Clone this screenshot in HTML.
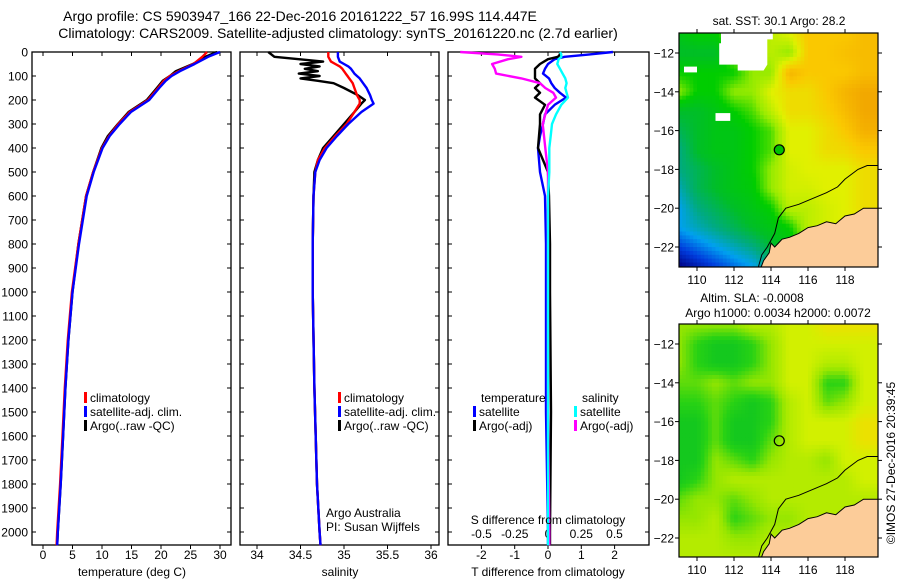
<!DOCTYPE html>
<html><head><meta charset="utf-8"><style>
html,body{margin:0;padding:0;background:#fff;width:900px;height:580px;overflow:hidden}
svg text{font-family:"Liberation Sans",sans-serif;fill:#000}
</style></head><body>
<svg id="fig" xmlns="http://www.w3.org/2000/svg" width="900" height="580" viewBox="0 0 900 580">
<text x="300" y="21" font-size="14" text-anchor="middle">Argo profile: CS 5903947_166 22-Dec-2016 20161222_57 16.99S 114.447E</text>
<text x="338" y="38" font-size="14" text-anchor="middle">Climatology: CARS2009. Satellite-adjusted climatology: synTS_20161220.nc (2.7d earlier)</text>
<g id="g"></g>
</svg>
<script>
// ---------- data ----------
const depthT = [0,10,20,50,80,100,120,150,200,250,300,350,400,500,600,800,1000,1200,1400,1600,1800,2000,2055];
const tempClim = [27.8,27.4,27,25.5,23,21.5,20.5,19.5,17.8,14.7,12.8,11.2,10,8.5,7.3,6,4.9,4.2,3.7,3.3,2.9,2.4,2.3];
const tempSat = [30,29,28,25.7,23.2,21.8,20.8,19.7,18,14.9,13,11.3,10.1,8.6,7.4,6.1,5,4.3,3.8,3.4,3,2.5,2.4];
const tempArgo = [29.5,28.5,27.5,25.4,22.5,21.5,20.3,19.3,17.6,14.5,12.7,11,9.9,8.5,7.3,6,5,4.3,3.8,3.4,3,2.5,2.4];
const depthS = [0,20,40,50,60,70,80,90,100,110,120,130,150,180,200,215,250,300,350,400,450,500,600,800,1000,1400,1800,2000,2055];
const salClim = [34.82,34.82,34.85,34.9,34.95,34.98,35,35.02,35.04,35.06,35.08,35.1,35.12,35.15,35.18,35.18,35.12,35.03,34.9,34.78,34.7,34.67,34.65,34.64,34.64,34.66,34.69,34.72,34.73];
const salSat = [34.93,34.93,34.95,35,35.05,35.08,35.1,35.12,35.15,35.18,35.2,35.22,35.26,35.3,35.32,35.34,35.2,35.05,34.92,34.8,34.72,34.67,34.65,34.64,34.64,34.66,34.69,34.72,34.73];
const salArgo = [34.13,34.2,34.76,34.5,34.72,34.55,34.7,34.48,34.72,34.5,34.7,34.88,35,35.16,35.24,35.2,35.12,35.0,34.88,34.76,34.7,34.66,34.65,34.64,34.64,34.66,34.69,34.72,34.73];
const depthD = [0,10,20,30,50,70,90,110,130,150,170,190,220,260,300,350,400,500,600,800,1000,1500,2000,2055];
const dTsat = [1.95,1.25,0.5,0.2,0,-0.09,-0.15,0.03,0.1,0.2,0.36,0.54,0.2,-0.09,-0.15,-0.24,-0.3,-0.24,-0.09,-0.06,-0.06,-0.06,0,0];
const dTargo = [0.36,0.36,0.3,0,-0.24,-0.39,-0.39,-0.39,-0.24,-0.39,-0.24,-0.39,-0.09,-0.24,-0.24,-0.27,-0.3,0,0.03,0.06,0.06,0.09,0.06,0.06];
const dSsat = [0.09,0.1,0.1,0.08,0.07,0.09,0.11,0.13,0.14,0.13,0.14,0.15,0.1,0.06,0.03,0.02,0.01,0.01,0.0,0.0,0.0,0.0,0.0,0.0];
const dSargo = [-0.66,-0.38,-0.2,-0.3,-0.42,-0.4,-0.39,-0.2,-0.06,-0.02,0.04,0.06,0.0,-0.02,-0.04,-0.03,-0.02,0.0,0.0,0.0,0.0,0.0,0.01,0.01];
const depthTicks = [0,100,200,300,400,500,600,700,800,900,1000,1100,1200,1300,1400,1500,1600,1700,1800,1900,2000];
const tempTicks = [0,5,10,15,20,25,30];
const salTicks = [34,34.5,35,35.5,36];
const dTTicks = [-2,-1,0,1,2];
const dSTicks = [-0.5,-0.25,0,0.25,0.5];
const dSTickLabels = ["-0.5","-0.25","0","0.25","0.5"];
// map grids, rows lat -11..-23, cols lon 109..119
const sstGrid = [
[4.5,5,5,6,6,6.5,7,8,8,8,8.3],
[4,4,4,6,6,6.5,6,8,8,8.2,8.3],
[5,5,5,5,6,6,8.5,8,8,8,8.3],
[6,5,5,6,6,7,7.5,7.5,8,8.5,8.8],
[4,4,4.5,5,5.5,6.5,7.5,7.5,7.8,8.3,8.8],
[3.5,4,4.5,4.5,5,5.5,7,7,7.5,8,8.6],
[3,4,4.5,4.5,5,5.5,7,7,7.5,7.6,8],
[3,3.5,4,4.5,5,6,6.8,7,7,7,7.5],
[2.5,3.5,4,4.5,4.8,6,6.8,6.8,7,7,7.5],
[2,3,3.5,4,4.5,5,6.5,6.5,6.8,7,7.5],
[2,2.5,3,3.5,4,4.5,5,6.5,6.8,7,7],
[1,1.5,2,2.5,3,3.8,4.5,6,6,6,6],
[0,0.5,1,1.5,2,3,4,5,5,5,5]];
const slaGrid = [
[2,2,2,2,2.5,2.5,3,3,3.5,3.5,3.5],
[2,1,0.5,0.5,1,2,3,3,3,3,3],
[2,1,0.5,0.5,1,2,3,3,2.5,2.5,3],
[1.5,1.5,2,1.5,2,2,3,3,1,1,3],
[1,1,1.5,1,0.5,1,2.5,3,1.5,2,3],
[0.5,0.5,1.5,0.5,0.5,1,2.5,3,3,3,3.5],
[0.5,0.5,1.5,0.5,0.5,1.5,2.5,3,3,3,3.5],
[0.5,0.5,2,1.5,1,2,2.5,2.5,2,3,3],
[0.5,1,2,2.5,2.5,2.5,2.5,2.5,2.5,2.5,3],
[1.5,2,2,1.5,2,2.5,2.5,2.5,2.5,2.5,2.5],
[2,2,2.5,1,1.5,2,2,2.5,2.5,2.5,2.5],
[2.5,2.5,2.5,2,2,2.5,2.5,2.5,2.5,2.5,2.5],
[2.5,2.5,2.5,2.5,2.5,2.5,2.5,2.5,2.5,2.5,2.5]];
const lonTicks = [110,112,114,116,118];
const latTicks = [-12,-14,-16,-18,-20,-22];
const argoLon = 114.447, argoLat = -16.99;

// ---------- helpers ----------
const NS="http://www.w3.org/2000/svg";
const G=document.getElementById('g');
function mk(tag,attrs,parent){const e=document.createElementNS(NS,tag);for(const k in attrs)e.setAttribute(k,attrs[k]);(parent||G).appendChild(e);return e;}
function txt(s,x,y,size,anchor,parent){const e=mk('text',{x:x,y:y,'font-size':size,'text-anchor':anchor||'start'},parent);e.textContent=s;return e;}

const TOP=52, BOT=545;
const yD = d => 52 + d*0.24;
const xT = t => 43 + t*5.9;
const xS = s => 257 + (s-34)*87;
const xDT = v => 548 + v*33.3;
const xDS = v => 548 + v*133;

function frame(x0,x1,name){
  const r=mk('rect',{x:x0,y:TOP,width:x1-x0,height:BOT-TOP,fill:'none',stroke:'#000','stroke-width':1.3});
  
  
  depthTicks.forEach(d=>{
    mk('line',{x1:x0,x2:x0+4,y1:yD(d),y2:yD(d),stroke:'#000'});
    mk('line',{x1:x1-4,x2:x1,y1:yD(d),y2:yD(d),stroke:'#000'});
  });
}
function xticks(vals,fx,labels,ly,name){
  vals.forEach((v,i)=>{
    const x=fx(v);
    mk('line',{x1:x,x2:x,y1:TOP,y2:TOP+4,stroke:'#000'});
    mk('line',{x1:x,x2:x,y1:BOT,y2:BOT+4,stroke:'#000'});
    const t=txt(labels?labels[i]:String(v),x,ly,12,'middle');
    
    
  });
}
function line(depths,vals,fx,color,name,w){
  const pts=depths.map((d,i)=>fx(vals[i]).toFixed(1)+','+yD(d).toFixed(1)).join(' ');
  const p=mk('polyline',{points:pts,fill:'none',stroke:color,'stroke-width':w||2.4,'stroke-linejoin':'round'});
  
  
}
function legendEntry(x,y,color,label,name){
  mk('rect',{x:x,y:y-10,width:3,height:11,fill:color});
  const t=txt(label,x+6,y,12);
  
  
}

// panel 1: temperature
frame(32,231,'temperature-panel');
depthTicks.forEach(d=>{const t=txt(String(d),28,yD(d)+4.5,12,'end');
  
  });
xticks(tempTicks,xT,null,559,'temperature-tick-label');
line(depthT,tempArgo,xT,'#000','argo-temperature-line');
line(depthT,tempClim,xT,'#f00','climatology-temperature-line');
line(depthT,tempSat,xT,'#00f','satellite-temperature-line');
let t1=txt('temperature (deg C)',132,576,12,'middle');


legendEntry(84,402,'#f00','climatology','legend-climatology');
legendEntry(84,416,'#00f','satellite-adj. clim.','legend-satellite');
legendEntry(84,430,'#000','Argo(..raw -QC)','legend-argo');

// panel 2: salinity
frame(240,439,'salinity-panel');
xticks(salTicks,xS,null,559,'salinity-tick-label');
line(depthS,salArgo,xS,'#000','argo-salinity-line');
line(depthS,salClim,xS,'#f00','climatology-salinity-line');
line(depthS,salSat,xS,'#00f','satellite-salinity-line');
let t2=txt('salinity',340,576,12,'middle');


legendEntry(338,402,'#f00','climatology','legend-climatology-2');
legendEntry(338,416,'#00f','satellite-adj. clim.','legend-satellite-2');
legendEntry(338,430,'#000','Argo(..raw -QC)','legend-argo-2');
let t3=txt('Argo Australia',326,517,12);


let t4=txt('PI: Susan Wijffels',326,531,12);



// panel 3: differences
frame(448,649,'difference-panel');
xticks(dTTicks,xDT,null,559,'t-diff-tick-label');
dSTicks.forEach((v,i)=>{const t=txt(dSTickLabels[i],xDS(v),538,12,'middle');
  
  });
line(depthD,dTsat,xDT,'#00f','satellite-t-diff-line');
line(depthD,dTargo,xDT,'#000','argo-t-diff-line');
line(depthD,dSargo,xDS,'#f0f','argo-s-diff-line');
line(depthD,dSsat,xDS,'#0ff','satellite-s-diff-line');
let t5=txt('S difference from climatology',548,524,12,'middle');


let t6=txt('T difference from climatology',548,576,12,'middle');


let t7=txt('temperature',481,402,12);


let t8=txt('salinity',582,402,12);


legendEntry(473,416,'#00f','satellite','legend-t-satellite');
legendEntry(473,430,'#000','Argo(-adj)','legend-t-argo');
legendEntry(574,416,'#0ff','satellite','legend-s-satellite');
legendEntry(574,430,'#f0f','Argo(-adj)','legend-s-argo');

// ---------- maps ----------
const MX0=679, MX1=878;
const mxL = lon => 697 + (lon-110)*18.5;
const sstStops=[[0,0,0,130],[1,0,60,220],[2,0,160,240],[3,0,170,130],[4,0,190,40],[5,0,205,0],[6,150,235,0],[7,225,240,0],[8,250,200,0],[9,240,160,0],[10,210,100,0]];
const slaStops=[[0,0,190,40],[1,40,210,20],[2,150,230,0],[3,210,240,0],[3.5,235,225,0],[4,245,200,0]];
function cmap(stops,v){
  if(v<=stops[0][0])return `rgb(${stops[0][1]},${stops[0][2]},${stops[0][3]})`;
  for(let i=1;i<stops.length;i++){if(v<=stops[i][0]){const a=stops[i-1],b=stops[i],f=(v-a[0])/(b[0]-a[0]);
    return `rgb(${Math.round(a[1]+f*(b[1]-a[1]))},${Math.round(a[2]+f*(b[2]-a[2]))},${Math.round(a[3]+f*(b[3]-a[3]))})`;}}
  const l=stops[stops.length-1];return `rgb(${l[1]},${l[2]},${l[3]})`;
}
function interp(grid,lon,lat){
  let c=Math.max(0,Math.min(9.999,lon-109)), r=Math.max(0,Math.min(11.999,-11-lat));
  const c0=Math.floor(c),r0=Math.floor(r),fc=c-c0,fr=r-r0;
  return grid[r0][c0]*(1-fc)*(1-fr)+grid[r0][c0+1]*fc*(1-fr)+grid[r0+1][c0]*(1-fc)*fr+grid[r0+1][c0+1]*fc*fr;
}
const land=[[113.4,-23.2],[113.6,-22.7],[113.9,-22.3],[114.0,-21.8],[114.2,-22.0],[114.4,-21.8],[114.6,-21.6],[115.0,-21.5],[115.5,-21.3],[116.0,-21.0],[116.5,-20.9],[117.0,-20.7],[117.5,-20.8],[118.0,-20.4],[118.5,-20.3],[119.0,-20.0],[119.9,-20.0],[119.9,-23.2]];
const contour=[[113.3,-23.1],[113.5,-22.4],[113.8,-22.0],[114.2,-21.3],[114.4,-20.5],[114.8,-20.0],[115.5,-19.8],[116.0,-19.6],[117.0,-19.2],[117.6,-18.9],[118.0,-18.5],[118.7,-18.0],[119.2,-17.8],[119.8,-17.8]];

function drawMap(id,y0,y1,lat12y,grid,stops,step,holes,name){
  const myL = lat => lat12y + (-12-lat)*19.4;
  const grp=mk('g',{});
  
  
  const cp=mk('clipPath',{id:id},grp);
  mk('rect',{x:MX0,y:y0,width:MX1-MX0,height:y1-y0},cp);
  const inner=mk('g',{'clip-path':`url(#${id})`},grp);
  for(let lon=109;lon<120;lon+=step){for(let lat=-10.8;lat>-23.3;lat-=step){
    const v=interp(grid,lon+step/2,lat-step/2);
    const x=mxL(lon),y=myL(lat);
    mk('rect',{x:x.toFixed(1),y:y.toFixed(1),width:(step*18.5+0.6).toFixed(1),height:(step*19.4+0.6).toFixed(1),fill:cmap(stops,v)},inner);
  }}
  holes.forEach(h=>mk('polygon',{points:h.map(p=>mxL(p[0]).toFixed(1)+','+myL(p[1]).toFixed(1)).join(' '),fill:'#fff'},inner));
  mk('polygon',{points:land.map(p=>mxL(p[0]).toFixed(1)+','+myL(p[1]).toFixed(1)).join(' '),fill:'#fccc99',stroke:'#000','stroke-width':1},inner);
  mk('polyline',{points:contour.map(p=>mxL(p[0]).toFixed(1)+','+myL(p[1]).toFixed(1)).join(' '),fill:'none',stroke:'#000','stroke-width':1},inner);
  mk('rect',{x:MX0,y:y0,width:MX1-MX0,height:y1-y0,fill:'none',stroke:'#000','stroke-width':1.2},grp);
  lonTicks.forEach(l=>{const x=mxL(l);
    mk('line',{x1:x,x2:x,y1:y0-4,y2:y0,stroke:'#000'},grp);mk('line',{x1:x,x2:x,y1:y1,y2:y1+4,stroke:'#000'},grp);
    const t=txt(String(l),x,y1+17,12,'middle',grp);
    
    });
  latTicks.forEach(l=>{const y=myL(l);
    mk('line',{x1:MX0-4,x2:MX0,y1:y,y2:y,stroke:'#000'},grp);mk('line',{x1:MX1,x2:MX1+4,y1:y,y2:y,stroke:'#000'},grp);
    const t=txt(String(l).replace('-','\u2212'),MX0-5,y+4.5,12,'end',grp);
    
    });
  const c=mk('circle',{cx:mxL(argoLon),cy:myL(argoLat),r:5,fill:'none',stroke:'#000','stroke-width':1.2},grp);
  
  
  return c;
}
const sstHoles=[[[111.3,-10.9],[114.1,-10.9],[114.1,-11.3],[113.8,-11.3],[113.8,-12.6],[113.6,-12.9],[112.2,-12.9],[112.2,-12.6],[111.2,-12.6],[111.2,-11.5],[111.3,-11.5]],
 [[109.3,-12.7],[110.0,-12.7],[110.0,-13.0],[109.3,-13.0]],[[111.0,-15.1],[111.8,-15.1],[111.8,-15.5],[111.0,-15.5]]];
const m1=drawMap('clip1',33,267,53,sstGrid,sstStops,0.2,sstHoles,'sst-map');
m1.setAttribute('fill','#00c000');
drawMap('clip2',324,557,344,slaGrid,slaStops,0.2,[],'sla-map');

let a=txt('sat. SST: 30.1 Argo: 28.2',779,25,12,'middle');


let b=txt('Altim. SLA: -0.0008',752,302,12,'middle');


let c2=txt('Argo h1000: 0.0034 h2000: 0.0072',778,317,12,'middle');


let d=txt('\u00A9IMOS 27-Dec-2016 20:39:45',0,0,12,'middle');
d.setAttribute('transform','translate(895,463) rotate(-90)');


</script>
</body></html>
